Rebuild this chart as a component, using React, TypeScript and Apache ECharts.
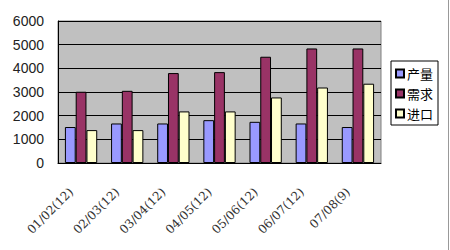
import React, { useEffect, useRef } from "react";
import * as echarts from "echarts";

const categories = ["01/02(12)", "02/03(12)", "03/04(12)", "04/05(12)", "05/06(12)", "06/07(12)", "07/08(9)"];
const production = [1520, 1670, 1670, 1810, 1740, 1670, 1520];
const demand = [3010, 3050, 3800, 3840, 4490, 4840, 4840];
const imports = [1390, 1390, 2180, 2180, 2770, 3190, 3350];
const seriesNames = ["产量", "需求", "进口"];
const yTicks = { min: 0, max: 6000, interval: 1000 };

export default function App() {
  const ref = useRef<HTMLDivElement>(null);
  useEffect(() => {
    const chart = echarts.init(ref.current!, null, { renderer: "svg" });
    const mk = (name: string, data: number[], color: string) => ({
      name,
      type: "bar",
      data,
      barGap: "0%",
      barCategoryGap: "30%",
      itemStyle: { color, borderColor: "#000", borderWidth: 1 },
    });
    chart.setOption({
      animation: false,
      backgroundColor: "#fff",
      grid: {
        left: 58,
        right: 69,
        top: 21,
        bottom: 87,
        show: true,
        backgroundColor: "#C0C0C0",
        borderColor: "#808080",
        borderWidth: 1,
      },
      legend: {
        orient: "vertical",
        left: 391,
        top: 61,
        itemWidth: 8,
        itemHeight: 8,
        itemGap: 7,
        padding: [6, 5, 5, 4],
        borderColor: "#000",
        borderWidth: 1,
        backgroundColor: "#fff",
        borderRadius: 0,
        icon: "rect",
        textStyle: { fontFamily: "'Noto Sans CJK SC', serif", fontSize: 13, color: "#000", padding: [0, 0, 0, -2] },
        data: seriesNames,
      },
      xAxis: {
        type: "category",
        data: categories,
        axisLine: { lineStyle: { color: "#000", width: 1 } },
        axisTick: { inside: true, length: 5, lineStyle: { color: "#000" } },
        axisLabel: {
          rotate: 45,
          interval: 0,
          margin: 17,
          padding: [0, 14, 0, 0],
          color: "#333",
          fontFamily: "'DejaVu Serif', serif",
          fontSize: 12,
        },
      },
      yAxis: {
        type: "value",
        min: yTicks.min,
        max: yTicks.max,
        interval: yTicks.interval,
        axisLine: { show: true, lineStyle: { color: "#000" } },
        axisTick: { show: false },
        splitLine: { lineStyle: { color: "#000", width: 1 } },
        axisLabel: {
          color: "#222",
          fontFamily: "'Liberation Sans', Arial, sans-serif",
          fontSize: 14,
          margin: 14,
          formatter: (v: number) => String(v),
        },
      },
      graphic: [
        { type: "line", shape: { x1: 448.5, y1: 0, x2: 448.5, y2: 250 }, style: { stroke: "#999", lineWidth: 1 } },
      ],
      series: [
        mk(seriesNames[0], production, "#9999FF"),
        mk(seriesNames[1], demand, "#993366"),
        mk(seriesNames[2], imports, "#FFFFCC"),
      ],
    });
    return () => chart.dispose();
  }, []);
  return <div ref={ref} style={{ width: 450, height: 250, position: "absolute", left: 0, top: 0 }} />;
}
